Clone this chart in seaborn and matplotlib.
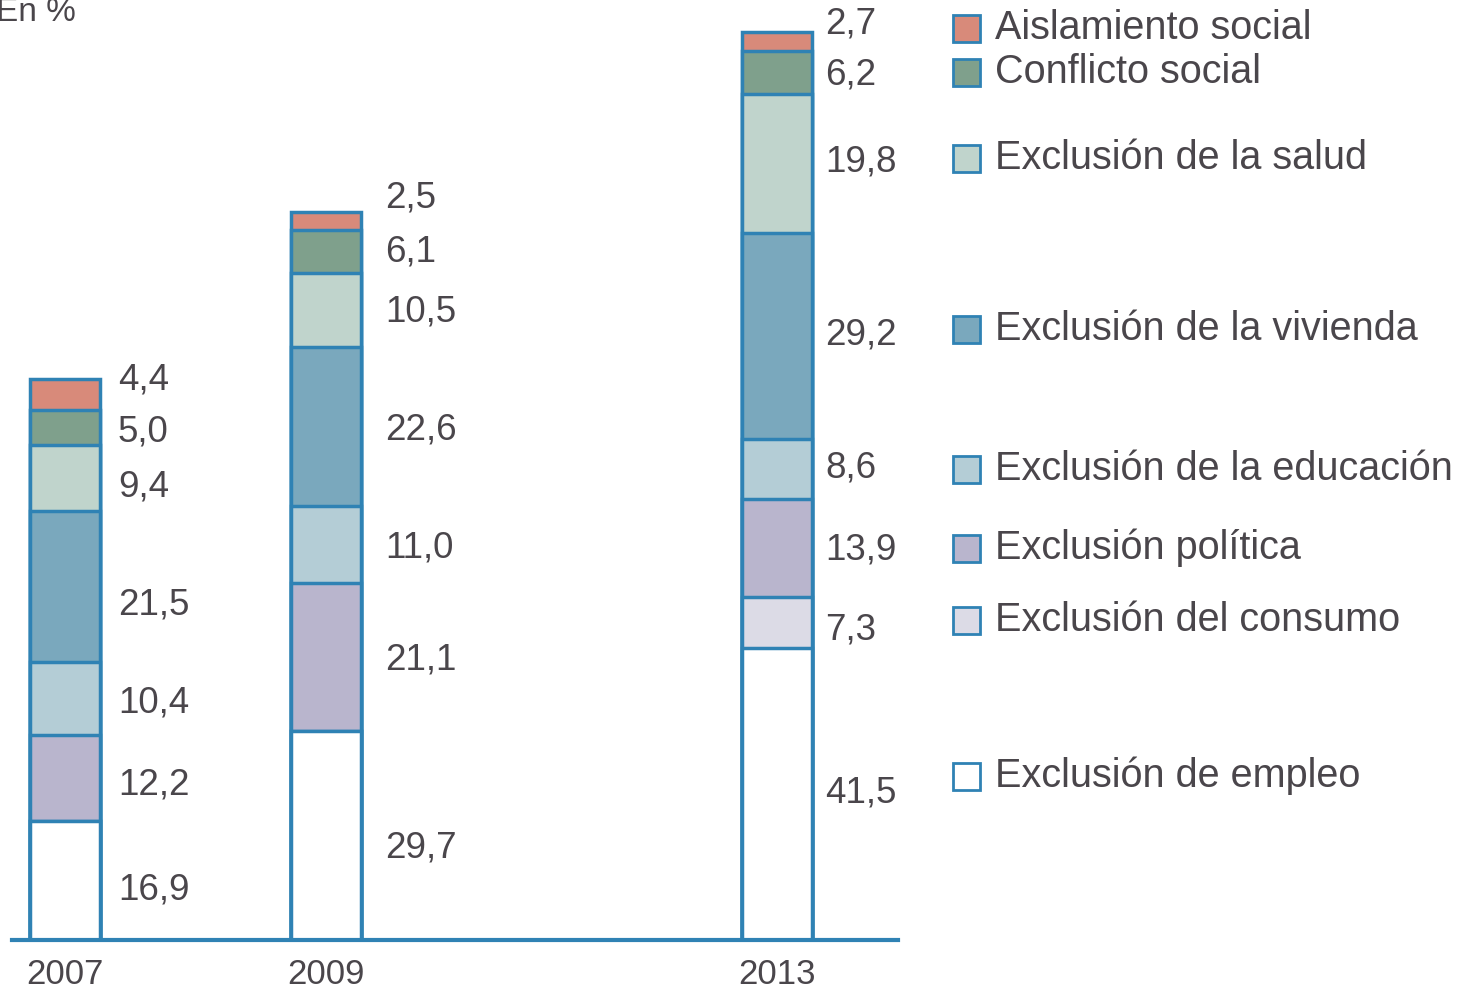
import numpy as np
import pandas as pd
import matplotlib.pyplot as plt
from matplotlib.patches import Rectangle
import seaborn as sns

# data, bottom to top of each stack (None = category not measured that year)
years = ["2007", "2009", "2013"]
categories = [
    "Exclusión de empleo",
    "Exclusión del consumo",
    "Exclusión política",
    "Exclusión de la educación",
    "Exclusión de la vivienda",
    "Exclusión de la salud",
    "Conflicto social",
    "Aislamiento social",
]
empleo = [16.9, 29.7, 41.5]
consumo = [None, None, 7.3]
politica = [12.2, 21.1, 13.9]
educacion = [10.4, 11.0, 8.6]
vivienda = [21.5, 22.6, 29.2]
salud = [9.4, 10.5, 19.8]
conflicto = [5.0, 6.1, 6.2]
aislamiento = [4.4, 2.5, 2.7]

colors = ["#ffffff", "#dcdbe6", "#b9b5cd", "#b4cdd6",
          "#7aa8bd", "#c0d4cc", "#7fa08c", "#d88a7a"]

# layout (pixels inside the axes, which span 886 px)
bar_pos = [53, 314, 765]
bar_w = 70
label_gap = [18, 24, 13]
# label heights in data units, bottom to top, only for present segments
label_y = {
    "2007": [7.1, 22.0, 33.7, 47.7, 64.4, 72.3, 79.7],
    "2009": [13.1, 39.8, 55.7, 72.5, 89.3, 97.9, 105.5],
    "2013": [20.9, 44.1, 55.5, 67.2, 86.1, 110.6, 123.1, 130.3],
}
legend_y_px = [776, 620, 548, 469, 329, 158, 72, 28]  # same order as categories

EDGE = "#2f82b4"
TEXT = "#4a464b"

series = [empleo, consumo, politica, educacion, vivienda, salud, conflicto, aislamiento]
df = pd.DataFrame(
    {cat: [np.nan if v is None else v for v in vals] for cat, vals in zip(categories, series)},
    index=years,
)
cum = df.fillna(0).cumsum(axis=1)

sns.set_style("white")
plt.rcParams["font.family"] = ["Liberation Sans", "DejaVu Sans"]

fig = plt.figure(figsize=(14.66, 9.9), dpi=100)
ax = fig.add_axes([12 / 1466, 50 / 990, 886 / 1466, 935 / 990])

# stacked bars: draw cumulative totals from the top layer down
for cat, col in reversed(list(zip(categories, colors))):
    layer = pd.DataFrame({"pos": bar_pos, "total": cum[cat].values})
    sns.barplot(
        data=layer, x="pos", y="total", native_scale=True,
        width=bar_w / (bar_pos[1] - bar_pos[0]),
        color=col, saturation=1, edgecolor=EDGE, linewidth=2.5,
        errorbar=None, ax=ax,
    )

# value labels
for i, yr in enumerate(years):
    vals = [v for v in df.loc[yr].values if not np.isnan(v)]
    for v, yy in zip(vals, label_y[yr]):
        ax.text(bar_pos[i] + bar_w / 2 + label_gap[i], yy,
                f"{v:.1f}".replace(".", ","),
                fontsize=26.5, color=TEXT, va="center", ha="left")

ax.set_xlim(0, 886)
ax.set_ylim(0, 133)
ax.set_xticks(bar_pos)
ax.set_xticklabels(years)
ax.set_yticks([])
ax.set_xlabel("")
ax.set_ylabel("")
ax.tick_params(axis="x", length=0, pad=13, labelsize=25, labelcolor=TEXT)
for side in ["top", "left", "right"]:
    ax.spines[side].set_visible(False)
ax.spines["bottom"].set_color(EDGE)
ax.spines["bottom"].set_linewidth(3)

# legend on the right
for cat, col, ypx in zip(categories, colors, legend_y_px):
    yf = 1 - ypx / 990
    fig.add_artist(Rectangle((953 / 1466, yf - 14 / 990), 27 / 1466, 27 / 990,
                             facecolor=col, edgecolor=EDGE, linewidth=2,
                             transform=fig.transFigure))
    fig.text(995 / 1466, yf, cat, fontsize=28.5, color=TEXT, va="center", ha="left")

fig.text(-4 / 1466, 1 - 21 / 990, "En %", fontsize=24, color=TEXT,
         va="baseline", ha="left")

plt.savefig("out.png", dpi=100)
